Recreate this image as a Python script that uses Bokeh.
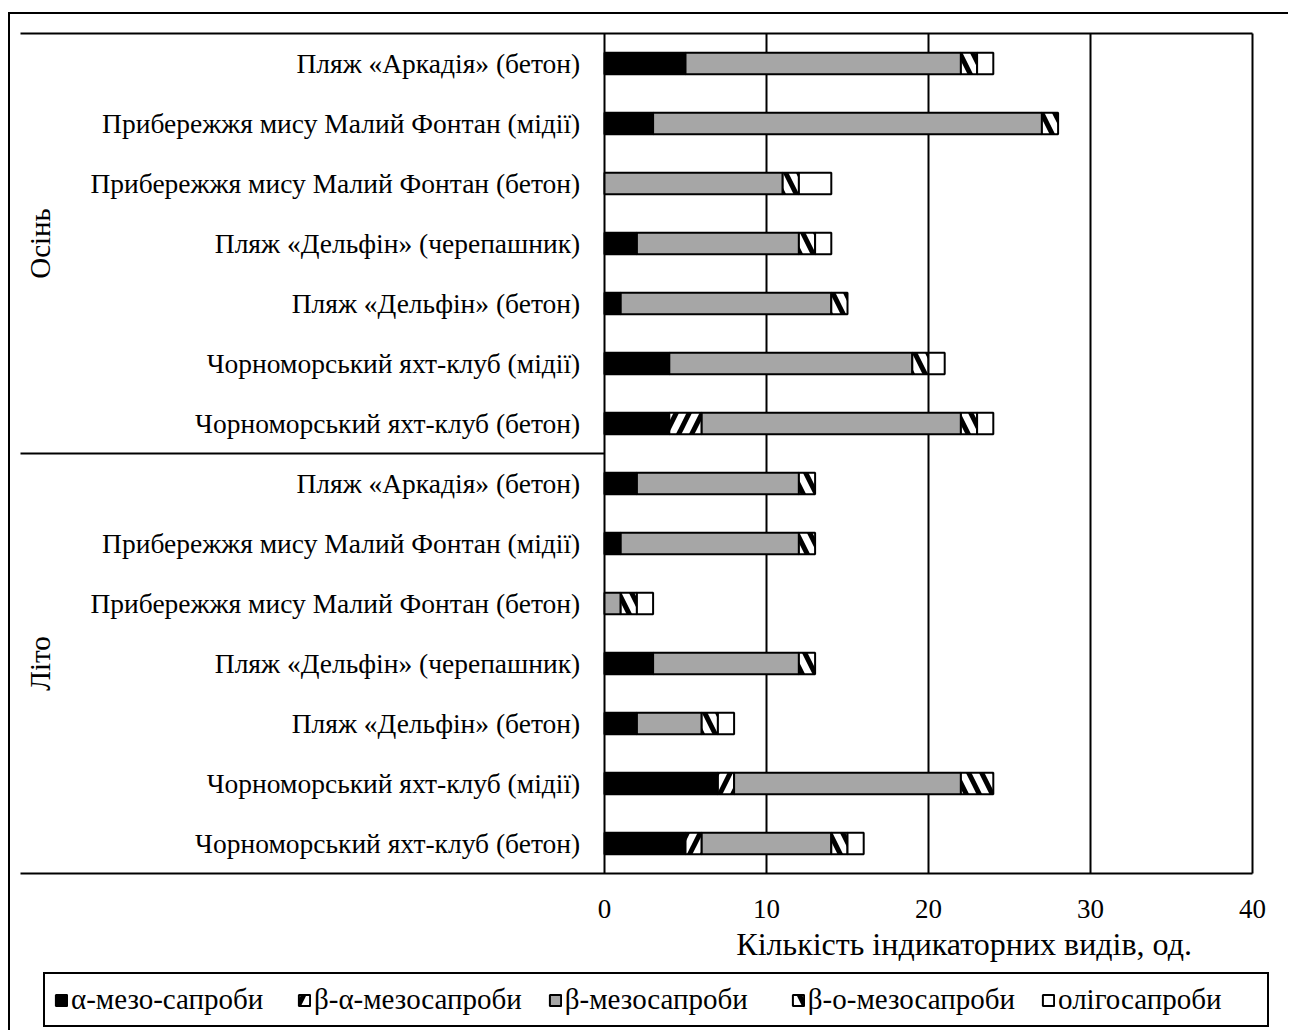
import numpy as np
from bokeh.plotting import figure
from bokeh.models import Range1d, Legend, LegendItem
from bokeh.core.properties import value
from bokeh.embed import file_html
from bokeh.resources import INLINE

# ---------------- data ----------------
sites = [
    "Чорноморський яхт-клуб (бетон)",
    "Чорноморський яхт-клуб (мідії)",
    "Пляж «Дельфін» (бетон)",
    "Пляж «Дельфін» (черепашник)",
    "Прибережжя мису Малий Фонтан (бетон)",
    "Прибережжя мису Малий Фонтан (мідії)",
    "Пляж «Аркадія» (бетон)",
]
seasons = ["Літо", "Осінь"]
series = ["α-мезо-сапроби", "β-α-мезосапроби", "β-мезосапроби", "β-о-мезосапроби", "олігосапроби"]

summer_alpha      = [5, 7, 2, 3, 0, 1, 2]
summer_beta_alpha = [1, 1, 0, 0, 0, 0, 0]
summer_beta       = [8, 14, 4, 9, 1, 11, 10]
summer_beta_o     = [1, 2, 1, 1, 1, 1, 1]
summer_oligo      = [1, 0, 1, 0, 1, 0, 0]

autumn_alpha      = [4, 4, 1, 2, 0, 3, 5]
autumn_beta_alpha = [2, 0, 0, 0, 0, 0, 0]
autumn_beta       = [16, 15, 13, 10, 11, 24, 17]
autumn_beta_o     = [1, 1, 1, 1, 1, 1, 1]
autumn_oligo      = [1, 1, 0, 1, 2, 0, 1]

x_ticks = [0, 10, 20, 30, 40]
x_title = "Кількість індикаторних видів, од."

# ---------------- build ----------------
FONT = "Liberation Serif"

vals = np.array([
    summer_alpha + autumn_alpha,
    summer_beta_alpha + autumn_beta_alpha,
    summer_beta + autumn_beta,
    summer_beta_o + autumn_beta_o,
    summer_oligo + autumn_oligo,
], dtype=float)
labels = sites + sites
ys = np.arange(len(labels), dtype=float)
n_summer = len(sites)
n_rows = len(labels)

# whole canvas is the plotting frame; geometry in pixels
W, H = 1280, 1018
px_x = 16.2                      # pixels per x unit
px_y = 60.0                      # pixels per row
x0_px = 594                      # canvas x of value 0
yax_px = 859                     # canvas y of the bottom axis line
x_start = -x0_px / px_x
x_end = x_start + W / px_x
y_axis = -0.5
y_top = y_axis + yax_px / px_y
y_bot = y_axis - (H - yax_px) / px_y
y_cap = n_rows - 0.5
x_left_line = -584 / px_x        # where the category area begins

p = figure(width=W, height=H, output_backend="svg", toolbar_location=None,
           x_range=Range1d(x_start, x_end), y_range=Range1d(y_bot, y_top),
           y_axis_location=None, x_axis_location=None,
           min_border_left=0, min_border_right=0, min_border_top=0, min_border_bottom=0)
p.styles = {"border-left": "2px solid black", "border-top": "2px solid black",
            "margin-top": "12px", "margin-left": "8px"}
p.outline_line_color = None
p.background_fill_color = "white"
p.border_fill_color = "white"
p.xgrid.visible = False
p.ygrid.visible = False

# vertical gridlines, top and bottom lines, season separator
p.segment(x0=x_ticks, x1=x_ticks, y0=[y_axis] * len(x_ticks), y1=[y_cap] * len(x_ticks),
          line_color="black", line_width=2)
p.segment(x0=[x_left_line] * 2, x1=[x_ticks[-1]] * 2, y0=[y_axis, y_cap], y1=[y_axis, y_cap],
          line_color="black", line_width=2)
p.segment(x0=[x_left_line], x1=[0], y0=[n_summer - 0.5], y1=[n_summer - 0.5],
          line_color="black", line_width=2)

fills = ["black", "white", "#A6A6A6", "white", "white"]
hatches = [None, "/", None, "\\", None]
left = np.zeros(n_rows)
items = []
for k, name in enumerate(series):
    v = vals[k]
    right = left + v
    m = v > 0
    kw = dict(y=ys[m], left=left[m], right=right[m], height=0.36,
              fill_color=fills[k], line_color="black", line_width=2)
    if hatches[k]:
        kw.update(hatch_pattern=hatches[k], hatch_color="black", hatch_weight=5, hatch_scale=26)
    r = p.hbar(**kw)
    items.append(LegendItem(label=name, renderers=[r]))
    left = right

def txt(size):
    return dict(text_font=value(FONT), text_font_size=size, text_color="black")

# category labels
p.text(x=[-1.5] * n_rows, y=ys, text=labels, text_align="right", text_baseline="middle",
       **txt("27.5px"))

# group labels
grp_y = [(n_summer - 1) / 2, n_summer + (n_rows - n_summer - 1) / 2]
p.text(x=[(39 - 10 - x0_px) / px_x] * 2, y=grp_y, text=seasons, angle=np.pi / 2,
       text_align="center", text_baseline="middle", **txt("29px"))

# x tick labels
p.text(x=x_ticks, y=[y_axis - 35 / px_y] * len(x_ticks), text=[str(t) for t in x_ticks],
       text_align="center", text_baseline="middle", **txt("27px"))

# axis title
p.text(x=[22.2], y=[y_axis - 70 / px_y], text=[x_title], text_align="center",
       text_baseline="middle", **txt("32px"))

legend = Legend(items=items, orientation="horizontal", location=(33, 5),
                label_text_font=FONT, label_text_font_size="29px", label_text_color="black",
                glyph_width=14, glyph_height=14, label_standoff=3, label_width=200,
                spacing=26, padding=9,
                border_line_color="black", border_line_width=2, border_line_alpha=1,
                background_fill_color="white", background_fill_alpha=1)
p.add_layout(legend, "center")

open("out.html", "w").write(file_html(p, INLINE))
